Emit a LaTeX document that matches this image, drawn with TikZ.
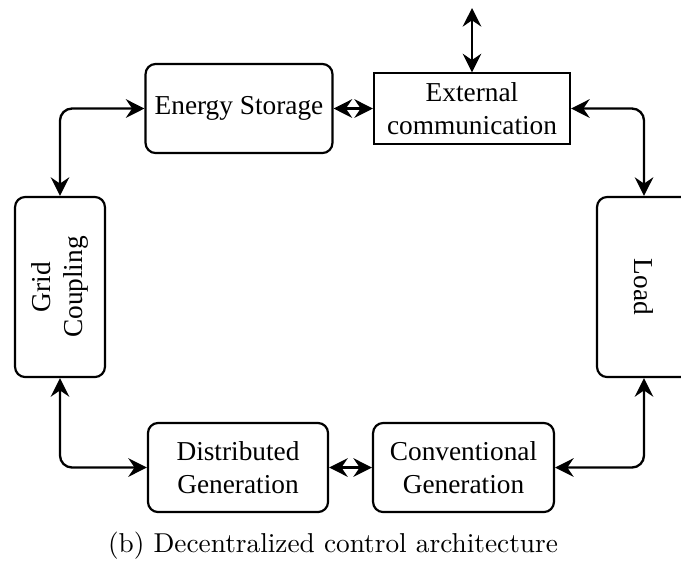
\documentclass[tikz,border=0pt]{standalone}
\usepackage{fontspec}
\usepackage{graphicx}
\newfontfamily\timesFont{Liberation Serif}
\usetikzlibrary{arrows.meta}
\tikzset{
  roundBox/.style={draw, line width=0.8pt, rounded corners=3.7pt, align=center, font=\timesFont},
  plainBox/.style={draw, line width=0.8pt, align=center, font=\timesFont},
  link/.style={line width=0.85pt, rounded corners=4.4pt, {Stealth[length=6.8pt,width=6.8pt,inset=2.3pt]}-{Stealth[length=6.8pt,width=6.8pt,inset=2.3pt]}}
}
\begin{document}
\begin{tikzpicture}[x=0.366pt, y=-0.366pt]
  \useasboundingbox (0,0) rectangle (681,567);
  \node[roundBox, minimum width=66.6pt, minimum height=32.6pt] (storage) at (239,108.5) {Energy Storage};
  \node[plainBox, minimum width=71.7pt, minimum height=24.5pt] (extComm) at (472,108.5) {External\\communication};
  \node[roundBox, minimum width=32.9pt, minimum height=65.9pt] (grid) at (60,287) {\rotatebox{90}{\begin{tabular}{@{}c@{}}Grid\\Coupling\end{tabular}}};
  \node[roundBox, minimum width=34.4pt, minimum height=65.9pt] (load) at (644,287) {\rotatebox{-90}{Load}};
  \node[roundBox, minimum width=65.9pt, minimum height=32.6pt] (distGen) at (238,467.5) {Distributed\\Generation};
  \node[roundBox, minimum width=66.2pt, minimum height=32.6pt] (convGen) at (463.5,467.5) {Conventional\\Generation};
  \coordinate (extTop) at (472,8);

  \draw[link] (grid.north) |- (storage.west);
  \draw[link] (storage) -- (extComm);
  \draw[link] (extComm.north) -- (extTop);
  \draw[link] (extComm.east) -| (load.north);
  \draw[link] (grid.south) |- (distGen.west);
  \draw[link] (distGen) -- (convGen);
  \draw[link] (load.south) |- (convGen.east);

  \node (caption) at (333,546) {(b) Decentralized control architecture};
\end{tikzpicture}
\end{document}
